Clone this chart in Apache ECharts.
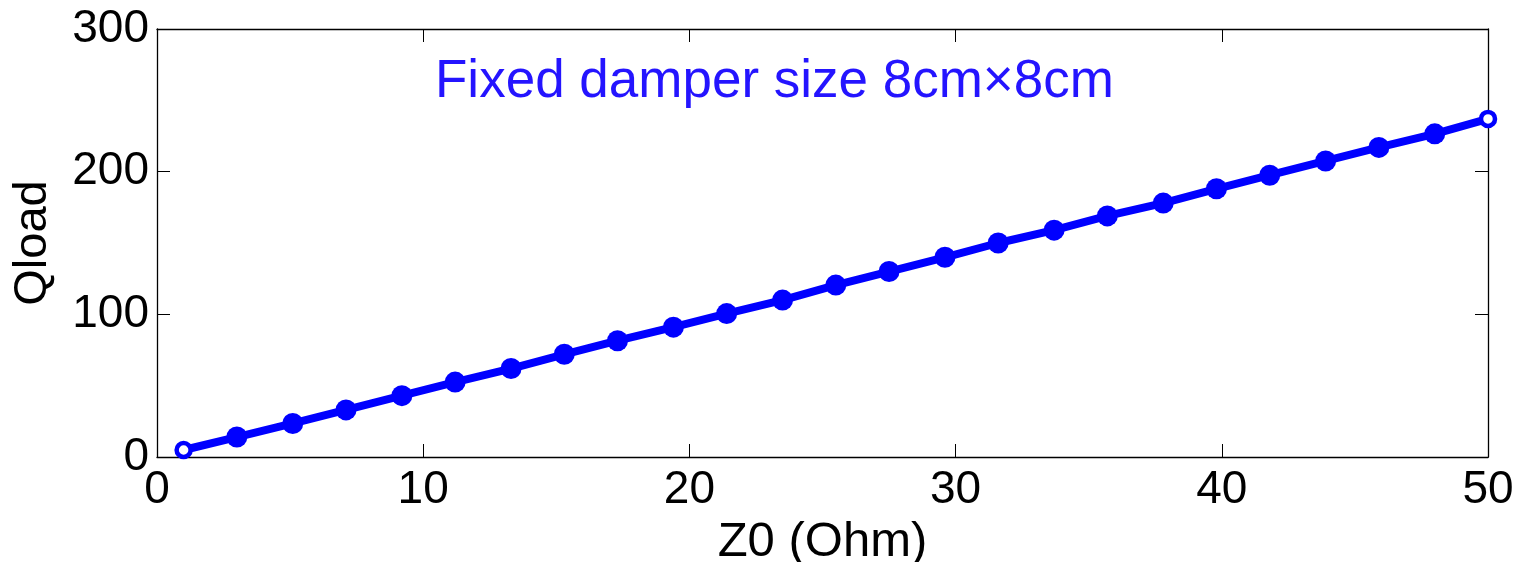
<!DOCTYPE html>
<html>
<head>
<meta charset="utf-8">
<script src="https://cdn.jsdelivr.net/npm/echarts@6/dist/echarts.min.js"></script>
<style>html,body{margin:0;padding:0;background:#fff;}#c{width:1524px;height:562px;}</style>
</head>
<body>
<div id="c"></div>
<script>
var z0 = [1, 3, 5.1, 7.1, 9.2, 11.2, 13.3, 15.3, 17.3, 19.4, 21.4, 23.5, 25.5, 27.5, 29.6, 31.6, 33.7, 35.7, 37.8, 39.8, 41.8, 43.9, 45.9, 48, 50];
var qload = [4.9, 14, 23.5, 33, 43, 52.5, 62, 72, 81.5, 91, 100.5, 110, 120.5, 130, 140, 150, 159, 169, 178, 188, 197.5, 207.5, 217, 226.5, 237];
var xTicks = [0, 10, 20, 30, 40, 50];
var yTicks = [0, 100, 200, 300];
var titleText = 'Fixed damper size 8cm\u00d78cm';
var xName = 'Z0 (Ohm)';
var yName = 'Qload';

var font = 'Liberation Sans, Arial, sans-serif';
var data = z0.map(function (x, i) {
  var d = { value: [x, qload[i]] };
  if (i === 0 || i === z0.length - 1) {
    d.symbolSize = 14;
    d.itemStyle = { color: '#ffffff', borderColor: '#0000ff', borderWidth: 4.5 };
  }
  return d;
});
var chart = echarts.init(document.getElementById('c'), null, { renderer: 'canvas' });
function axisBase() {
  return {
    type: 'value',
    axisLine: { show: true, onZero: false, lineStyle: { color: '#000', width: 1.3 } },
    axisTick: { show: true, inside: true, length: 13, lineStyle: { color: '#000', width: 1 } },
    splitLine: { show: false }
  };
}
chart.setOption({
  animation: false,
  backgroundColor: '#ffffff',
  title: {
    text: titleText,
    left: 430, top: 51,
    textStyle: { color: '#2414ff', fontSize: 53, fontWeight: 'normal', fontFamily: font }
  },
  grid: { left: 157, right: 36, top: 29, bottom: 105, containLabel: false, outerBoundsMode: 'none' },
  xAxis: [
    Object.assign(axisBase(), {
      min: 0, max: 50, interval: 10, position: 'bottom',
      name: xName, nameLocation: 'middle', nameGap: 57,
      nameTextStyle: { color: '#000', fontSize: 49, fontFamily: font },
      axisLabel: { color: '#000', fontSize: 46, fontFamily: font, margin: 10,
        formatter: function (v) { return xTicks.indexOf(v) >= 0 ? String(v) : ''; } }
    }),
    Object.assign(axisBase(), {
      min: 0, max: 50, interval: 10, position: 'top',
      axisLabel: { show: false }
    })
  ],
  yAxis: [
    Object.assign(axisBase(), {
      min: 0, max: 300, interval: 100, position: 'left',
      name: yName, nameLocation: 'middle', nameGap: 100,
      nameTextStyle: { color: '#000', fontSize: 47, fontFamily: font },
      axisLabel: { color: '#000', fontSize: 46, fontFamily: font, margin: 8,
        formatter: function (v) { return yTicks.indexOf(v) >= 0 ? String(v) : ''; } }
    }),
    Object.assign(axisBase(), {
      min: 0, max: 300, interval: 100, position: 'right',
      axisLabel: { show: false }
    })
  ],
  series: [{
    type: 'line',
    data: data,
    clip: false,
    symbol: 'circle',
    symbolSize: 21,
    lineStyle: { color: '#0000ff', width: 8 },
    itemStyle: { color: '#0000ff' }
  }]
});
</script>
</body>
</html>
